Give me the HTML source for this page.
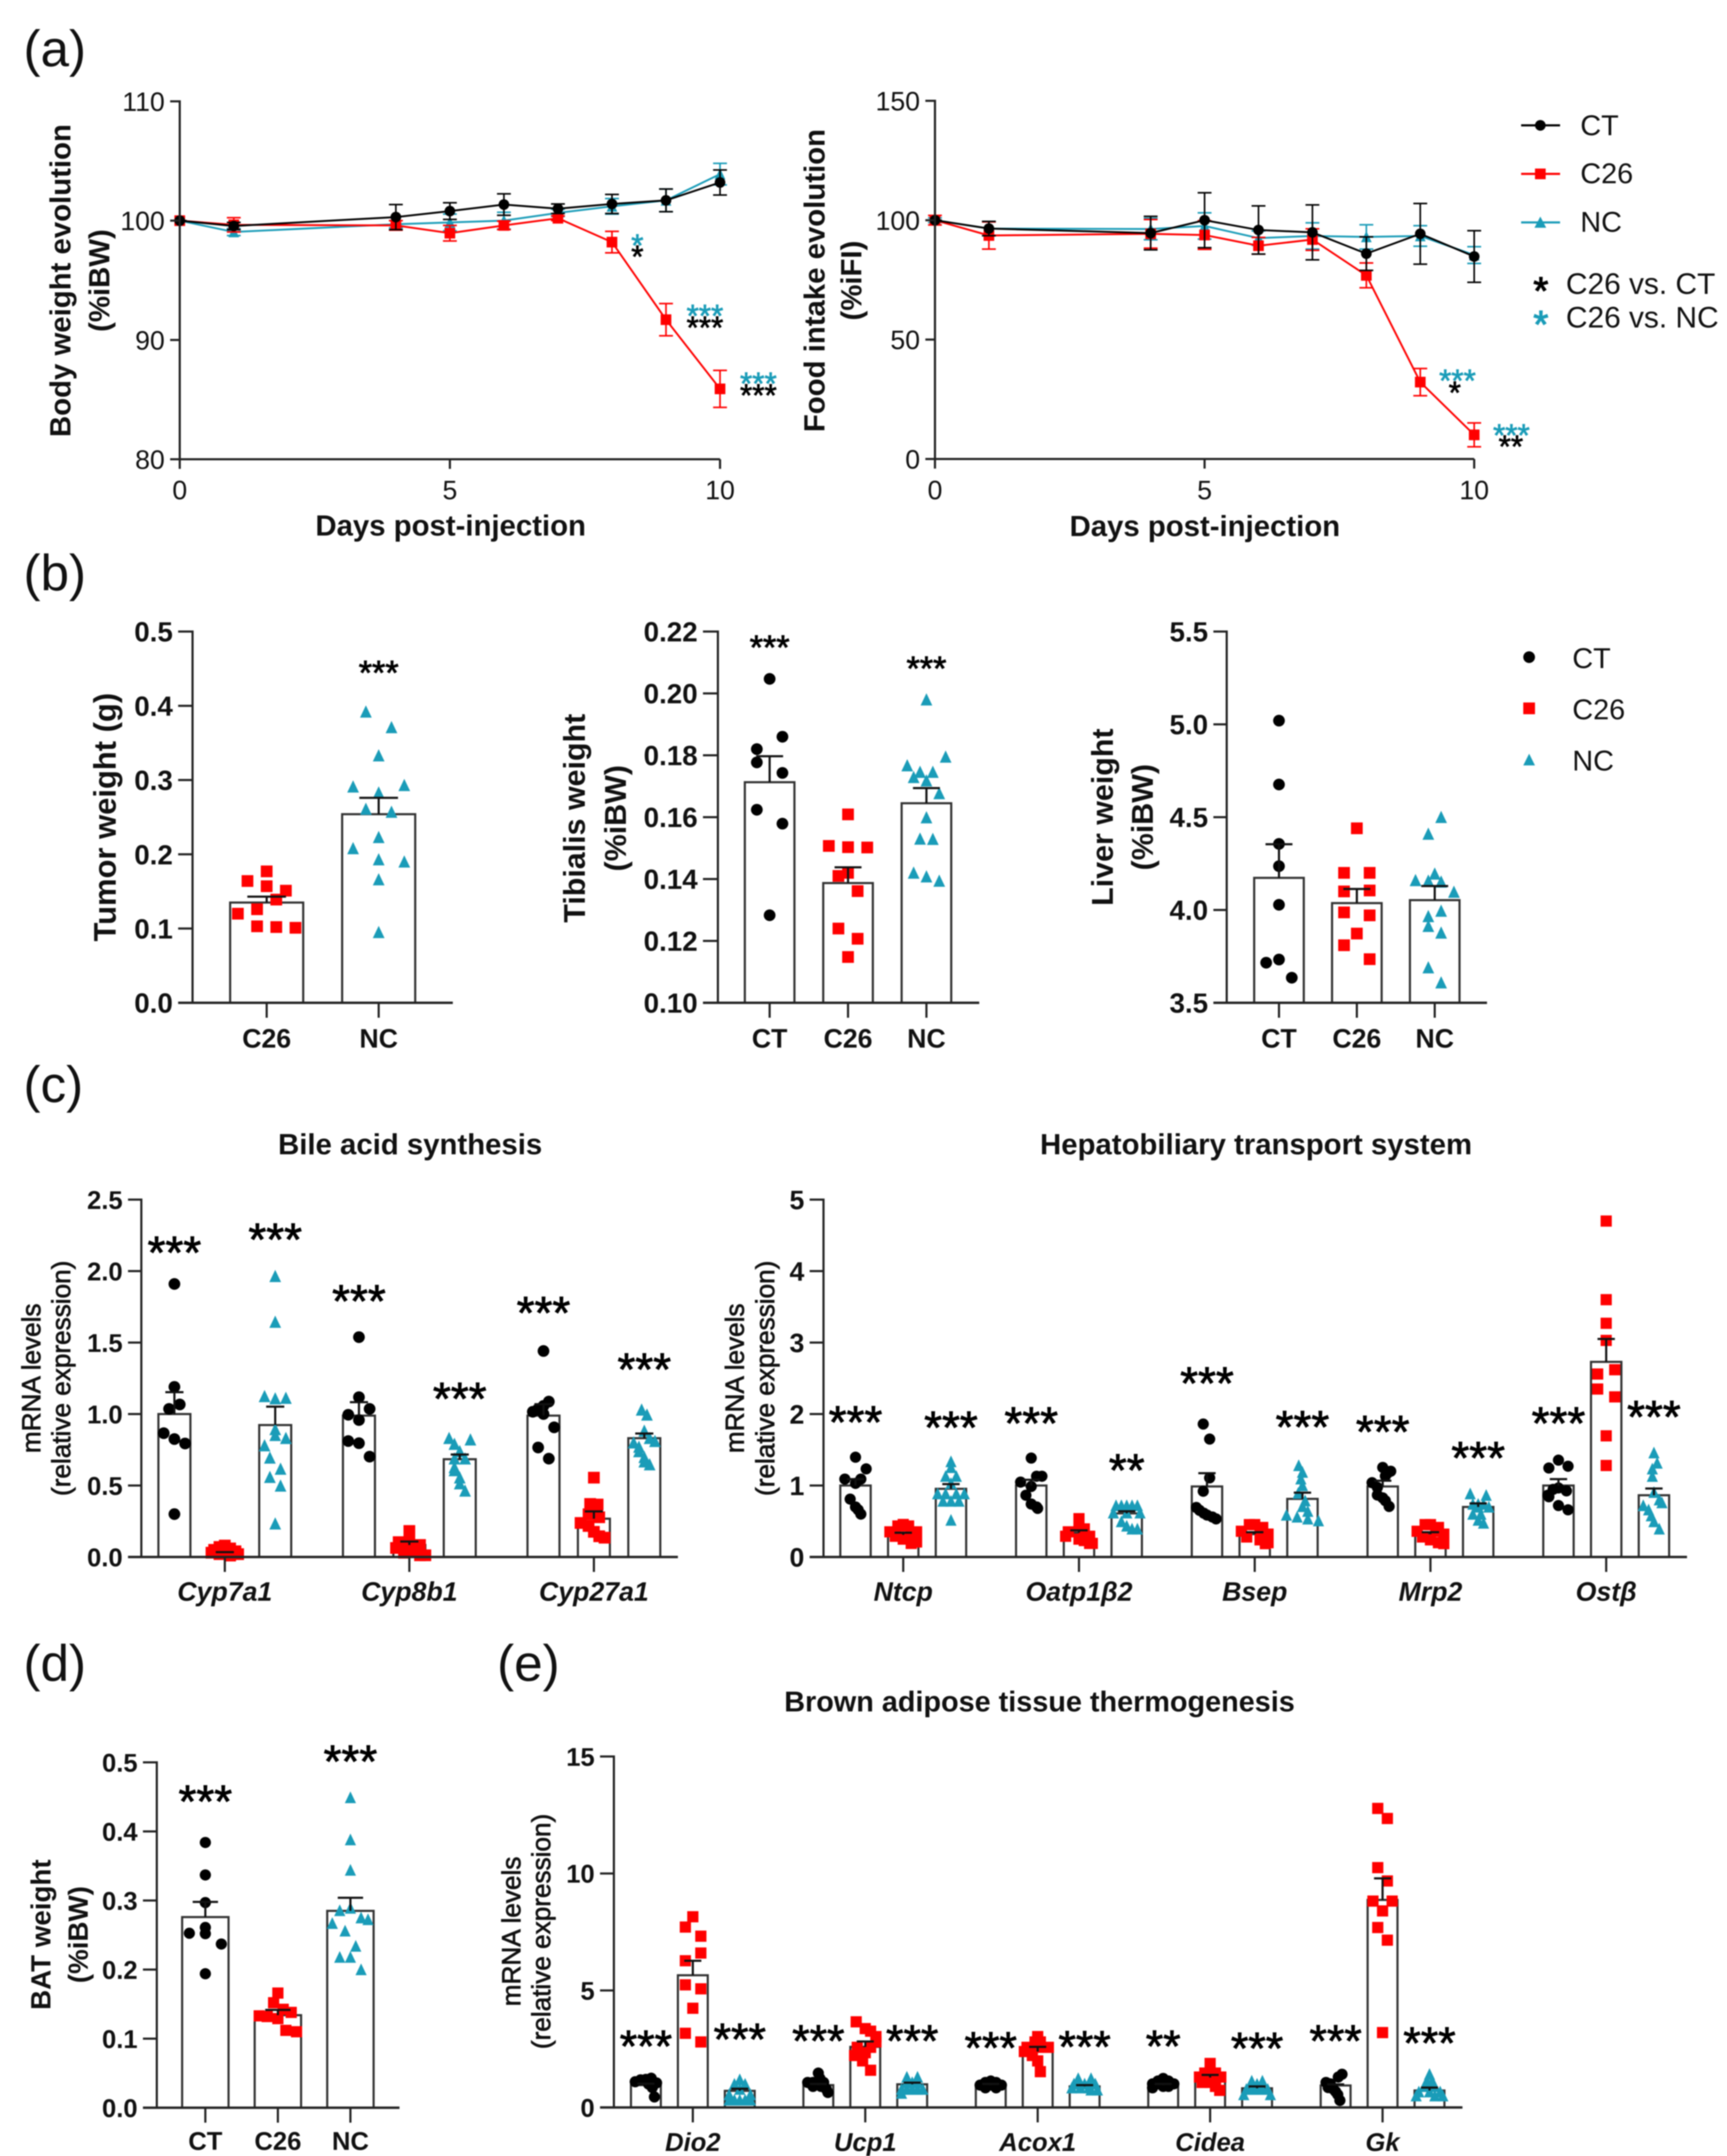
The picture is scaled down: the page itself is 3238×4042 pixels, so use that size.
<!DOCTYPE html>
<html lang="en">
<head>
<meta charset="utf-8">
<title>Multi-panel figure</title>
<style>
html,body{margin:0;padding:0;background:#fff;}
#figure{display:block;width:3238px;height:4042px;background:#fff;font-family:"Liberation Sans",Arial,sans-serif;filter:blur(1px);}
.letter{font-size:96px;fill:#111;}
.b{font-weight:bold;}
.lab{font-weight:bold;text-anchor:middle;fill:#111;}
.reg{text-anchor:middle;fill:#111;stroke:#111;stroke-width:1.2px;}
</style>
</head>
<body>
<svg id="figure" xmlns="http://www.w3.org/2000/svg" width="3238" height="4042" viewBox="0 0 3238 4042">
  <text class="letter" x="44" y="124">(a)</text>
  <text class="letter" x="44" y="1107">(b)</text>
  <text class="letter" x="44" y="2066">(c)</text>
  <text class="letter" x="44" y="3151">(d)</text>
  <text class="letter" x="932" y="3151">(e)</text>

  <text class="lab" font-size="55" transform="translate(112,526) rotate(-90)" dy=".36em">Body weight evolution</text>
  <text class="lab" font-size="55" transform="translate(185,526) rotate(-90)" dy=".36em">(%iBW)</text>
  <text class="lab" font-size="55" x="845" y="984" dy=".36em">Days post-injection</text>

  <text class="lab" font-size="55" transform="translate(1526,526) rotate(-90)" dy=".36em">Food intake evolution</text>
  <text class="lab" font-size="55" transform="translate(1595,526) rotate(-90)" dy=".36em">(%iFI)</text>
  <text class="lab" font-size="55" x="2259" y="985" dy=".36em">Days post-injection</text>

  <g font-size="54" fill="#111">
    <line x1="2852" x2="2925" y1="235" y2="235" stroke="#000" stroke-width="4"/>
    <circle cx="2888" cy="235" r="10" fill="#000"/>
    <text x="2963" y="234" dy=".36em">CT</text>
    <line x1="2852" x2="2925" y1="326" y2="326" stroke="#ff0000" stroke-width="4"/>
    <rect x="2878" y="316" width="20" height="20" fill="#ff0000"/>
    <text x="2963" y="324" dy=".36em">C26</text>
    <line x1="2852" x2="2925" y1="417" y2="417" stroke="#1a9cb8" stroke-width="4"/>
    <polygon points="2888,406 2877,427 2899,427" fill="#1a9cb8"/>
    <text x="2963" y="415" dy=".36em">NC</text>
  </g>
  <g font-size="56" fill="#111">
    <text x="2889" y="570" font-size="72" text-anchor="middle" fill="#000" stroke="#000" stroke-width="2">*</text>
    <text x="2936" y="531" dy=".36em">C26 vs. CT</text>
    <text x="2889" y="633" font-size="72" text-anchor="middle" fill="#1a9cb8" stroke="#1a9cb8" stroke-width="2">*</text>
    <text x="2936" y="594" dy=".36em">C26 vs. NC</text>
  </g>

  <text class="lab" font-size="58" transform="translate(196,1532) rotate(-90)" dy=".36em">Tumor weight (g)</text>
  <text class="lab" font-size="57" transform="translate(1076,1534) rotate(-90)" dy=".36em">Tibialis weight</text>
  <text class="lab" font-size="57" transform="translate(1153,1534) rotate(-90)" dy=".36em">(%iBW)</text>
  <text class="lab" font-size="57" transform="translate(2066,1532) rotate(-90)" dy=".36em">Liver weight</text>
  <text class="lab" font-size="57" transform="translate(2141,1532) rotate(-90)" dy=".36em">(%iBW)</text>

  <g font-size="54" fill="#111">
    <circle cx="2867" cy="1232" r="11" fill="#000"/>
    <text x="2948" y="1233" dy=".36em">CT</text>
    <rect x="2856" y="1317" width="22" height="22" fill="#ff0000"/>
    <text x="2948" y="1329" dy=".36em">C26</text>
    <polygon points="2867,1413 2856,1435 2878,1435" fill="#1a9cb8"/>
    <text x="2948" y="1425" dy=".36em">NC</text>
  </g>

  <text class="lab" font-size="55" x="769" y="2144" dy=".36em">Bile acid synthesis</text>
  <text class="lab" font-size="55" x="2355" y="2144" dy=".36em">Hepatobiliary transport system</text>
  <text class="reg" font-size="49" transform="translate(58,2584) rotate(-90)" dy=".36em">mRNA levels</text>
  <text class="reg" font-size="49" transform="translate(114,2584) rotate(-90)" dy=".36em">(relative expression)</text>
  <text class="reg" font-size="49" transform="translate(1377,2584) rotate(-90)" dy=".36em">mRNA levels</text>
  <text class="reg" font-size="49" transform="translate(1434,2584) rotate(-90)" dy=".36em">(relative expression)</text>

  <text class="lab" font-size="52" transform="translate(76,3627) rotate(-90)" dy=".36em">BAT weight</text>
  <text class="lab" font-size="52" transform="translate(146,3627) rotate(-90)" dy=".36em">(%iBW)</text>
  <text class="lab" font-size="54" x="1949" y="3189" dy=".36em">Brown adipose tissue thermogenesis</text>
  <text class="reg" font-size="49" transform="translate(958,3621) rotate(-90)" dy=".36em">mRNA levels</text>
  <text class="reg" font-size="49" transform="translate(1014,3621) rotate(-90)" dy=".36em">(relative expression)</text>
</svg>

<script>
/* ---------- panel (a) line-chart data ---------- */
const days = [0,1,4,5,6,7,8,9,10];
const bodyCT  = [100,99.55,100.3,100.8,101.35,101,101.4,101.7,103.2];
const bodyCTErr  = [0,.3,1.05,.7,.9,.4,.8,.95,1.05];
const bodyC26 = [100,99.65,99.6,98.95,99.6,100.2,98.2,91.7,85.9];
const bodyC26Err = [0,.6,.4,.65,.35,.2,.9,1.35,1.55];
const bodyNC  = [100,99.05,99.7,99.85,100,100.65,101.2,101.7,103.9];
const bodyNCErr  = [0,.3,.3,.7,.7,.3,.65,.95,.9];
const bodyTicks = [80,90,100,110];
const foodCT  = [100,96.5,94.6,100,95.9,94.9,86,94.3,84.8];
const foodCTErr  = [0,3,7,11.5,10.1,11.5,7,12.7,10.8];
const foodC26 = [100,93.6,94.3,93.8,89.3,91.9,76.9,32.2,10.1];
const foodC26Err = [2,5.7,6,6,3.5,4.5,5.2,5.7,5];
const foodNC  = [100,96.5,96.3,97.6,92.5,93.4,93,93.4,85.4];
const foodNCErr  = [1,3,4.5,5.5,3,5.5,5.1,4.3,3.5];
const foodTicks = [0,50,100,150];
const dayTicks = [0,5,10];
const bodyStarText = ['*','*','***','***','***','***'];
const bodyStarDays = [8.47,8.47,9.72,9.72,10.71,10.71];
const bodyStarValues = [98.46,97.52,92.56,91.58,86.88,85.9];
const bodyStarGroup = ['NC','CT','NC','CT','NC','CT'];
const foodStarText = ['***','*','***','**'];
const foodStarDays = [9.69,9.64,10.69,10.68];
const foodStarValues = [35.46,30.5,12.64,7.94];
const foodStarGroup = ['NC','CT','NC','CT'];

/* ---------- panel (b) data: values, and swarm column of each point ---------- */
const tumorC26 = [.177,.164,.157,.151,.139,.126,.12,.103,.102,.101], tumorC26Col = [0,-3,0,3,1.5,-1.5,-4.5,-1.5,1.5,4.5];
const tumorNC = [.392,.371,.333,.291,.293,.283,.261,.257,.223,.208,.193,.19,.166,.095], tumorNCCol = [-2,2,0,-4,4,0,-2,2,0,-4,0,4,0,0];
const tumorMeans = [.135,.254];
const tumorSem = [.008,.022];
const tumorStars = ['','***'];
const tumorStarLevels = [0,.452];
const tumorTicks = [0,.1,.2,.3,.4,.5];
const tumorTickLabels = ['0.0','0.1','0.2','0.3','0.4','0.5'];
const tumorCategories = ['C26','NC'];

const tibialisCT = [.2047,.186,.182,.1777,.1743,.1624,.1579,.1283], tibialisCTCol = [0,2,-2,-2,2,-2,2,0];
const tibialisC26 = [.1609,.1507,.1503,.1502,.142,.141,.1361,.124,.1207,.1148], tibialisC26Col = [0,-3,0,3,0,-1.5,1.5,-1.5,1.5,0];
const tibialisNC = [.198,.1795,.1767,.1746,.1746,.1729,.1718,.1677,.1599,.153,.1529,.142,.1408,.1394], tibialisNCCol = [0,3,-3,-1,1,-2,0,2,0,-1,1,-2,0,2];
const tibialisMeans = [.1713,.1387,.1645];
const tibialisSem = [.0084,.0051,.0049];
const tibialisStars = ['***','','***'];
const tibialisStarLevels = [.2166,0,.2098];
const tibialisTicks = [.10,.12,.14,.16,.18,.20,.22];
const tibialisTickLabels = ['0.10','0.12','0.14','0.16','0.18','0.20','0.22'];
const threeCategories = ['CT','C26','NC'];

const liverCT = [5.02,4.676,4.356,4.236,4.028,3.733,3.716,3.635], liverCTCol = [0,0,0,0,0,0,-2,2];
const liverC26 = [4.44,4.2,4.2,4.105,4.1,3.987,3.971,3.873,3.81,3.735], liverC26Col = [0,-2,2,2,-2,-2,2,0,-2,2];
const liverNC = [4.5,4.41,4.195,4.16,4.157,4.152,4.097,3.995,3.966,3.913,3.877,3.69,3.609], liverNCCol = [1,-1,0,-3,-1,1,3,1,-1,-1,1,-1,1];
const liverMeans = [4.173,4.037,4.053];
const liverSem = [.181,.076,.076];
const liverTicks = [3.5,4,4.5,5,5.5];
const liverTickLabels = ['3.5','4.0','4.5','5.0','5.5'];

/* ---------- panel (c) left: bile acid synthesis ---------- */
const cyp7CT = [1.91,1.19,1.067,1.036,.866,.825,.794,.3], cyp7CTCol = [0,0,1,-1,-2,0,2,0];
const cyp7C26 = [.08,.07,.06,.05,.04,.04,.03,.02,.02,.01], cyp7C26Col = [0,-1,1,-2,2,0,-2.5,2.5,-1,1];
const cyp7NC = [1.964,1.644,1.124,1.108,1.112,.893,.852,.831,.78,.694,.616,.559,.498,.233], cyp7NCCol = [0,0,-2,0,2,0,0,2,-2,-1,1,-1,1,0];
const cyp8CT = [1.538,1.118,1.036,.995,.958,.811,.796,.702], cyp8CTCol = [0,0,2,-2,0,-2,0,2];
const cyp8C26 = [.182,.135,.104,.084,.07,.063,.043,.03,.012,.012], cyp8C26Col = [0,0,-2,2,0,-2.5,1,-1,2,3];
const cyp8NC = [.831,.821,.79,.739,.688,.688,.627,.606,.555,.514,.463], cyp8NCCol = [-2,2,-1,0,1,-1,-1,-1,0,0,1];
const cyp27CT = [1.441,1.087,1.057,1.036,1.016,1,.907,.766,.688], cyp27CTCol = [0,1,0,-1,-2,0,2,-1,1];
const cyp27C26 = [.555,.371,.367,.299,.278,.238,.217,.176,.145,.135], cyp27C26Col = [0,-.7,.7,-1,1,-2.5,-1,0,1,2];
const cyp27NC = [1.03,.995,.882,.831,.81,.8,.77,.739,.698,.667,.647], cyp27NCCol = [-.5,.5,0,1,2,-2,-1,-1,0,0,1];
const bileMeans = [1,.03,.923,.989,.084,.684,.989,.268,.831];
const bileSem = [.153,.004,.129,.094,.024,.033,.08,.051,.033];
const bileStars = ['***','','***','***','','***','***','','***'];
const bileStarLevels = [2.18,0,2.27,1.84,0,1.157,1.757,0,1.362];
const bileTicks = [0,.5,1,1.5,2,2.5];
const bileTickLabels = ['0.0','0.5','1.0','1.5','2.0','2.5'];
const bileCategories = ['Cyp7a1','Cyp8b1','Cyp27a1'];

/* ---------- panel (c) right: hepatobiliary transport ---------- */
const ntcpCT = [1.396,1.233,1.09,1.09,1.03,.81,.7,.66,.6], ntcpCTCol = [0,2,-2,1,0,-1,0,.5,1];
const ntcpC26 = [.455,.434,.434,.352,.352,.29,.29,.25,.21,.19], ntcpC26Col = [0,-1,1,-2.5,2.5,-1.5,1.5,0,2.5,1.5];
const ntcpNC = [1.335,1.253,1.13,1.13,1.03,.885,.885,.885,.885,.782,.782,.782,.516], ntcpNCCol = [0,0,-1,1,0,-2.5,2.5,-1,1,-1.5,0,1.5,0];
const oatpCT = [1.384,1.13,1.13,1.048,.987,.864,.741,.7,.68], oatpCTCol = [0,1,2,-2,0,-1,0,1,1.2];
const oatpC26 = [.536,.434,.393,.352,.29,.29,.25,.23,.19,.19], oatpC26Col = [0,0,1,-2,-2.5,2,0,1,2,2.5];
const oatpNC = [.72,.72,.72,.72,.72,.618,.618,.618,.495,.434,.393,.393], oatpNCCol = [-2,2,0,1,-1,-2.5,2.5,0,-1,0,1,2];
const bsepCT = [1.86,1.65,1.107,.92,.693,.653,.613,.587,.56,.533], bsepCTCol = [-.7,.5,.5,-.7,-2,-1.4,-.6,0,1,1.7];
const bsepC26 = [.453,.453,.413,.36,.32,.28,.24,.187,.2,.36], bsepC26Col = [0,-1,1.5,-2.5,2.5,-1.5,1,2,2.5,1];
const bsepNC = [1.28,1.187,1.093,1,.893,.787,.707,.64,.587,.56,.533,.507], bsepNCCol = [-.7,0,-.3,0,-.8,.5,0,1,-3,-1,1,3];
const mrpCT = [1.253,1.2,1.18,1.133,1.04,.973,.867,.827,.787,.707], mrpCTCol = [0,1.5,1,.5,-2,-1,-1,0,.5,1.2];
const mrpC26 = [.453,.453,.413,.36,.32,.28,.24,.187,.2,.36], mrpC26Col = [0,-1,1.5,-2.5,2.5,-1.5,0,2.5,1.5,1];
const mrpNC = [.885,.864,.74,.74,.7,.7,.6,.516,.475,.74,.6], mrpNCCol = [-1.5,1.5,-1,1,2,0,-1,0,1,0,.5];
const ostCT = [1.355,1.27,1.245,.966,.946,.925,.864,.843,.72,.66], ostCTCol = [0,1.8,-1.8,0,-1,1.5,-2,-1.8,0,1.8];
const ostC26 = [4.7,3.6,3.27,3.03,2.62,2.56,2.35,2.24,1.695,1.28], ostC26Col = [0,0,0,0,1.6,-1.6,-1.6,1.6,0,0];
const ostNC = [1.458,1.314,1.233,1.13,.905,.8,.76,.72,.66,.577,.495,.393], ostNCCol = [0,.6,-.3,-.3,0,1,1.5,-2,-1,-.5,0,1];
const hepatoMeans = [1,.31,.954,1,.34,.61,.987,.32,.813,.987,.32,.7,1,2.73,.864];
const hepatoSem = [.09,.03,.066,.08,.033,.03,.186,.027,.087,.08,.027,.05,.09,.32,.094];
const hepatoStars = ['***','','***','***','','**','***','','***','***','','***','***','','***'];
const hepatoStarLevels = [1.985,0,1.91,1.97,0,1.313,2.53,0,1.918,1.85,0,1.485,1.97,0,2.06];
const hepatoTicks = [0,1,2,3,4,5];
const hepatoTickLabels = ['0','1','2','3','4','5'];
const hepatoCategories = ['Ntcp','Oatp1β2','Bsep','Mrp2','Ostβ'];

/* ---------- panel (d) ---------- */
const batCT = [.384,.337,.297,.261,.2526,.252,.237,.194], batCTCol = [0,0,0,0,-3,0,3,0];
const batC26 = [.166,.152,.1425,.138,.133,.132,.129,.112,.11], batC26Col = [0,-.8,1,2.5,-3.5,-2,0,1.5,3.5];
const batNC = [.449,.388,.344,.289,.2855,.275,.2725,.267,.256,.234,.218,.218,.2], batNCCol = [0,0,0,0,-2,2,3.3,-3.4,-1,1,-2,0,2];
const batMeans = [.276,.134,.285];
const batSem = [.022,.0076,.019];
const batStars = ['***','','***'];
const batStarLevels = [.4537,0,.5116];
const batTicks = [0,.1,.2,.3,.4,.5];
const batTickLabels = ['0.0','0.1','0.2','0.3','0.4','0.5'];

/* ---------- panel (e) ---------- */
const dioCT = [1.25,1.2,1.18,1.1,1.05,1,.85,.45], dioCTCol = [1,0,-1,-2,2,.5,1.2,1.6];
const dioC26 = [8.15,7.71,7.32,6.6,6.27,5.24,5.07,4.24,3.17,2.8], dioC26Col = [0,-1.4,1.5,1.5,-1.4,-1.4,1.5,0,-1.4,1.5];
const dioNC = [1.19,1,1,.78,.55,.55,.32,.32,.32,.32,.32], dioNCCol = [0,-1,1,0,-2,2,-2,0,2,-1,1];
const ucpCT = [1.47,1.24,1.07,1.07,1.07,1.07,.9,.9,.78,.64], ucpCTCol = [0,.3,-2,-1,0,1,-1,.5,1.5,1.8];
const ucpC26 = [3.66,3.37,3.26,3.03,2.8,2.57,2.57,2.34,2.22,1.99,1.59], ucpC26Col = [-1.7,0,1,2,2,1,-1.5,0,-2,-.5,1];
const ucpNC = [1.3,1.3,1.07,1.07,1.07,.78,.78,.78,.78,.78,.61], ucpNCCol = [-1,1,-1,1,0,-2,2,0,-1,1,-2];
const acoxCT = [1.13,1.07,1.07,.955,.955,.955,.84,.84], acoxCTCol = [0,1,-1,-2,2,0,-1,1];
const acoxC26 = [3.03,2.8,2.8,2.57,2.57,2.57,2.39,2.22,1.99,1.53], acoxC26Col = [0,-.5,.5,-2,2,0,-2.5,-1,0,.5];
const acoxNC = [1.24,1.24,1.01,1.01,1.01,.84,.84,.84,.75,.75], acoxNCCol = [-1.2,1.2,-2,0,2,-2.4,-.8,.8,2.4,1.2];
const cideaCT = [1.24,1.13,1.13,1.01,1.01,1.01,.9,.9,.84], cideaCTCol = [0,-1,1,-2,-1,2,0,1,-2];
const cideaC26 = [1.88,1.47,1.47,1.47,1.3,1.3,1.07,1.07,.9,.73], cideaC26Col = [0,0,1,-1,-2,2,-1.5,0,1,1.8];
const cideaNC = [1.13,1.13,1,.78,.78,.78,.78,.78,.55,.55], cideaNCCol = [-1,1,0,-2,-1,0,1,2,-2.5,2.5];
const gkCT = [1.42,1.3,1.07,1.01,.78,.55,.3,.85,.68], gkCTCol = [1.2,.5,-1.8,-1,-.4,.4,.8,-1.4,0];
const gkC26 = [12.78,12.35,10.25,9.68,8.82,8.82,8.4,7.69,7.15,3.2], gkC26Col = [-.9,.9,-.9,.9,-1.8,1.8,0,-.9,.9,0];
const gkNC = [1.42,1.13,1.13,.9,.9,.9,.67,.67,.67,.5,.5,.5], gkNCCol = [0,-.5,.5,-1,1,0,-2,0,2,-2.5,2.5,1];
const thermoMeans = [.955,5.65,.71,.955,2.59,.99,.955,2.39,.9,.955,1.28,.82,.94,8.87,.725];
const thermoSem = [.06,.62,.09,.05,.23,.07,.05,.2,.055,.05,.11,.08,.05,.92,.125];
const thermoStars = ['***','','***','***','','***','***','','***','**','','***','***','','***'];
const thermoStarLevels = [2.92,0,3.21,3.15,0,3.15,2.85,0,2.9,2.92,0,2.83,3.15,0,3.05];
const thermoTicks = [0,5,10,15];
const thermoTickLabels = ['0','5','10','15'];
const thermoCategories = ['Dio2','Ucp1','Acox1','Cidea','Gk'];

/* ---------- drawing ---------- */
const NS = 'http://www.w3.org/2000/svg';
const svg = document.getElementById('figure');
const COLORS = {CT:'#000000', C26:'#ff0000', NC:'#1a9cb8'};
const AXIS = '#222';

function mk(tag, attrs, parent) {
  const el = document.createElementNS(NS, tag);
  for (const k in attrs) el.setAttribute(k, attrs[k]);
  parent.appendChild(el);
  return el;
}
function yScale(c, v) { return c.yBot - (v - c.yMin) / (c.yMax - c.yMin) * (c.yBot - c.yTop); }

function marker(parent, group, x, y, size) {
  const h = size / 2;
  if (group === 'CT') return mk('circle', {cx:x, cy:y, r:h, fill:COLORS.CT}, parent);
  if (group === 'C26') return mk('rect', {x:x-h, y:y-h, width:size, height:size, fill:COLORS.C26}, parent);
  return mk('polygon', {points:[x,y-h-1, x-h,y+h, x+h,y+h].join(' '), fill:COLORS.NC}, parent);
}

function yAxis(c, g) {
  const ax = mk('line', {x1:c.x0, x2:c.x0, y1:c.yTop-2, y2:c.yBot, stroke:AXIS, 'stroke-width':4}, g);
  
  
  c.yTicks.forEach((t, i) => {
    const y = yScale(c, t);
    const tick = mk('line', {x1:c.tickLeft, x2:c.x0, y1:y, y2:y, stroke:AXIS, 'stroke-width':4}, g);
    
    
    const lab = mk('text', {x:c.tickLeft-10, y:y, dy:'.36em', 'text-anchor':'end', 'font-size':c.tickFont, 'font-weight':c.tickWeight, fill:'#111'}, g);
    lab.textContent = c.yLabels[i];
    
    
  });
}

function barChart(c) {
  const g = mk('g', {}, svg);
  
  
  const xAt = i => c.first + Math.floor(i / c.perGroup) * c.groupStep + (i % c.perGroup) * c.barStep;
  c.means.forEach((m, i) => {
    const group = c.series[i % c.series.length];
    const x = xAt(i);
    const top = yScale(c, m);
    const bar = mk('rect', {x:x-c.barW/2, y:top, width:c.barW, height:c.yBot-top, fill:'none', stroke:'#333', 'stroke-width':4}, g);
    
    
  });
  c.means.forEach((m, i) => {
    const group = c.series[i % c.series.length];
    const x = xAt(i);
    c.values[i].forEach((v, j) => {
      const p = marker(g, group, x + c.cols[i][j] * c.colPx, yScale(c, v), c.size);
      
      
    });
  });
  c.means.forEach((m, i) => {
    const x = xAt(i);
    const y0 = yScale(c, m), y1 = yScale(c, m + c.sem[i]);
    const stem = mk('line', {x1:x, x2:x, y1:y0, y2:y1, stroke:'#111', 'stroke-width':4}, g);
    
    
    const cap = mk('line', {x1:x-c.barW/4-2, x2:x+c.barW/4+2, y1:y1, y2:y1, stroke:'#111', 'stroke-width':4}, g);
    
    
    if (c.stars && c.stars[i]) {
      const s = mk('text', {x:x, y:yScale(c, c.starLevels[i]) + c.starFont*0.5, 'text-anchor':'middle', 'font-size':c.starFont, fill:'#000', stroke:'#000', 'stroke-width':1.5}, g);
      s.textContent = c.stars[i];
      
      
    }
  });
  yAxis(c, g);
  const xAx = mk('line', {x1:c.tickLeft, x2:c.xEnd, y1:c.yBot, y2:c.yBot, stroke:AXIS, 'stroke-width':4.5}, g);
  
  
  c.categories.forEach((cat, k) => {
    const x = xAt(k * c.perGroup + Math.floor(c.perGroup / 2));
    const t = mk('line', {x1:x, x2:x, y1:c.yBot, y2:c.yBot+28, stroke:AXIS, 'stroke-width':4}, g);
    
    
    const lab = mk('text', {x:x, y:c.labelY, dy:'.36em', 'text-anchor':'middle', 'font-size':c.labelFont, 'font-weight':'bold', 'font-style':c.italic ? 'italic' : 'normal', fill:'#111'}, g);
    lab.textContent = cat;
    
    
  });
}

function lineChart(c) {
  const g = mk('g', {}, svg);
  
  
  const xs = d => c.x0 + d / 10 * (c.x10 - c.x0);
  c.drawOrder.forEach(group => {
    const vals = c.series[group], errs = c.errors[group], col = COLORS[group];
    const line = mk('polyline', {points:days.map((d, i) => xs(d) + ',' + yScale(c, vals[i])).join(' '), fill:'none', stroke:col, 'stroke-width':3.5}, g);
    
    
    days.forEach((d, i) => {
      const x = xs(d), y1 = yScale(c, vals[i] + errs[i]), y2 = yScale(c, vals[i] - errs[i]);
      const e = mk('path', {d:`M${x-13} ${y1}H${x+13}M${x} ${y1}V${y2}M${x-13} ${y2}H${x+13}`, fill:'none', stroke:col, 'stroke-width':3}, g);
      
      
      const p = marker(g, group, x, yScale(c, vals[i]), 20);
      
      
    });
  });
  yAxis(c, g);
  const xAx = mk('line', {x1:c.x0, x2:c.x10, y1:c.yBot, y2:c.yBot, stroke:AXIS, 'stroke-width':4}, g);
  
  
  dayTicks.forEach(d => {
    const x = xs(d);
    const t = mk('line', {x1:x, x2:x, y1:c.yBot, y2:c.yBot+18, stroke:AXIS, 'stroke-width':4}, g);
    
    
    const lab = mk('text', {x:x, y:918, dy:'.36em', 'text-anchor':'middle', 'font-size':c.tickFont, fill:'#111'}, g);
    lab.textContent = d;
    
    
  });
  c.starText.forEach((txt, i) => {
    const s = mk('text', {x:xs(c.starDays[i]), y:yScale(c, c.starValues[i]) + 59*0.55, 'text-anchor':'middle', 'font-size':59, fill:COLORS[c.starGroup[i]], stroke:COLORS[c.starGroup[i]], 'stroke-width':1.2}, g);
    s.textContent = txt;
    
    
  });
}

lineChart({name:'body-weight-chart', x0:337, x10:1350, tickLeft:319, yTop:190, yBot:861, yMin:80, yMax:110,
  yTicks:bodyTicks, yLabels:bodyTicks, tickFont:50, tickWeight:'normal', drawOrder:['NC','C26','CT'],
  series:{CT:bodyCT, C26:bodyC26, NC:bodyNC}, errors:{CT:bodyCTErr, C26:bodyC26Err, NC:bodyNCErr},
  starText:bodyStarText, starDays:bodyStarDays, starValues:bodyStarValues, starGroup:bodyStarGroup});
lineChart({name:'food-intake-chart', x0:1753, x10:2764, tickLeft:1735, yTop:189, yBot:860.5, yMin:0, yMax:150,
  yTicks:foodTicks, yLabels:foodTicks, tickFont:50, tickWeight:'normal', drawOrder:['NC','C26','CT'],
  series:{CT:foodCT, C26:foodC26, NC:foodNC}, errors:{CT:foodCTErr, C26:foodC26Err, NC:foodNCErr},
  starText:foodStarText, starDays:foodStarDays, starValues:foodStarValues, starGroup:foodStarGroup});

const panelB = {yTop:1184, yBot:1880, tickFont:52, tickWeight:'bold', labelY:1946, labelFont:50, perGroup:1, barStep:0, colPx:12, size:22, starFont:64};
barChart(Object.assign({}, panelB, {name:'tumor-weight-chart', x0:361, tickLeft:334, xEnd:849, yMin:0, yMax:.5,
  yTicks:tumorTicks, yLabels:tumorTickLabels, first:500, groupStep:210, barW:137, series:['C26','NC'], categories:tumorCategories,
  values:[tumorC26,tumorNC], cols:[tumorC26Col,tumorNCCol], means:tumorMeans, sem:tumorSem, stars:tumorStars, starLevels:tumorStarLevels}));
barChart(Object.assign({}, panelB, {name:'tibialis-weight-chart', x0:1346, tickLeft:1318, xEnd:1836, yMin:.10, yMax:.22,
  yTicks:tibialisTicks, yLabels:tibialisTickLabels, first:1443, groupStep:147, barW:93, series:['CT','C26','NC'], categories:threeCategories,
  values:[tibialisCT,tibialisC26,tibialisNC], cols:[tibialisCTCol,tibialisC26Col,tibialisNCCol], means:tibialisMeans, sem:tibialisSem, stars:tibialisStars, starLevels:tibialisStarLevels}));
barChart(Object.assign({}, panelB, {name:'liver-weight-chart', x0:2300, tickLeft:2275, xEnd:2788, yMin:3.5, yMax:5.5,
  yTicks:liverTicks, yLabels:liverTickLabels, first:2398, groupStep:146, barW:93, series:['CT','C26','NC'], categories:threeCategories,
  values:[liverCT,liverC26,liverNC], cols:[liverCTCol,liverC26Col,liverNCCol], means:liverMeans, sem:liverSem}));

barChart({name:'bile-acid-chart', x0:265, tickLeft:240, xEnd:1271, yTop:2249, yBot:2919, yMin:0, yMax:2.5,
  yTicks:bileTicks, yLabels:bileTickLabels, tickFont:48, tickWeight:'bold', labelY:2983, labelFont:50, italic:true,
  first:327, barStep:94.5, perGroup:3, groupStep:346, barW:60, colPx:10, size:22, starFont:86,
  series:['CT','C26','NC'], categories:bileCategories,
  values:[cyp7CT,cyp7C26,cyp7NC,cyp8CT,cyp8C26,cyp8NC,cyp27CT,cyp27C26,cyp27NC],
  cols:[cyp7CTCol,cyp7C26Col,cyp7NCCol,cyp8CTCol,cyp8C26Col,cyp8NCCol,cyp27CTCol,cyp27C26Col,cyp27NCCol],
  means:bileMeans, sem:bileSem, stars:bileStars, starLevels:bileStarLevels});

barChart({name:'hepatobiliary-chart', x0:1544, tickLeft:1518, xEnd:3163, yTop:2249, yBot:2919, yMin:0, yMax:5,
  yTicks:hepatoTicks, yLabels:hepatoTickLabels, tickFont:50, tickWeight:'bold', labelY:2983, labelFont:50, italic:true,
  first:1604, barStep:89.5, perGroup:3, groupStep:329.5, barW:57, colPx:10, size:21, starFont:86,
  series:['CT','C26','NC'], categories:hepatoCategories,
  values:[ntcpCT,ntcpC26,ntcpNC,oatpCT,oatpC26,oatpNC,bsepCT,bsepC26,bsepNC,mrpCT,mrpC26,mrpNC,ostCT,ostC26,ostNC],
  cols:[ntcpCTCol,ntcpC26Col,ntcpNCCol,oatpCTCol,oatpC26Col,oatpNCCol,bsepCTCol,bsepC26Col,bsepNCCol,mrpCTCol,mrpC26Col,mrpNCCol,ostCTCol,ostC26Col,ostNCCol],
  means:hepatoMeans, sem:hepatoSem, stars:hepatoStars, starLevels:hepatoStarLevels});

barChart({name:'bat-weight-chart', x0:294, tickLeft:268, xEnd:749, yTop:3304, yBot:3951.5, yMin:0, yMax:.5,
  yTicks:batTicks, yLabels:batTickLabels, tickFont:48, tickWeight:'bold', labelY:4013, labelFont:48,
  first:385, barStep:0, perGroup:1, groupStep:136, barW:87, colPx:10, size:21, starFont:86,
  series:['CT','C26','NC'], categories:threeCategories,
  values:[batCT,batC26,batNC], cols:[batCTCol,batC26Col,batNCCol], means:batMeans, sem:batSem, stars:batStars, starLevels:batStarLevels});

barChart({name:'thermogenesis-chart', x0:1151, tickLeft:1125, xEnd:2742, yTop:3293, yBot:3951, yMin:0, yMax:15,
  yTicks:thermoTicks, yLabels:thermoTickLabels, tickFont:48, tickWeight:'bold', labelY:4015, labelFont:48, italic:true,
  first:1211, barStep:88, perGroup:3, groupStep:323.3, barW:56, colPx:10, size:21, starFont:84,
  series:['CT','C26','NC'], categories:thermoCategories,
  values:[dioCT,dioC26,dioNC,ucpCT,ucpC26,ucpNC,acoxCT,acoxC26,acoxNC,cideaCT,cideaC26,cideaNC,gkCT,gkC26,gkNC],
  cols:[dioCTCol,dioC26Col,dioNCCol,ucpCTCol,ucpC26Col,ucpNCCol,acoxCTCol,acoxC26Col,acoxNCCol,cideaCTCol,cideaC26Col,cideaNCCol,gkCTCol,gkC26Col,gkNCCol],
  means:thermoMeans, sem:thermoSem, stars:thermoStars, starLevels:thermoStarLevels});
</script>
</body>
</html>
